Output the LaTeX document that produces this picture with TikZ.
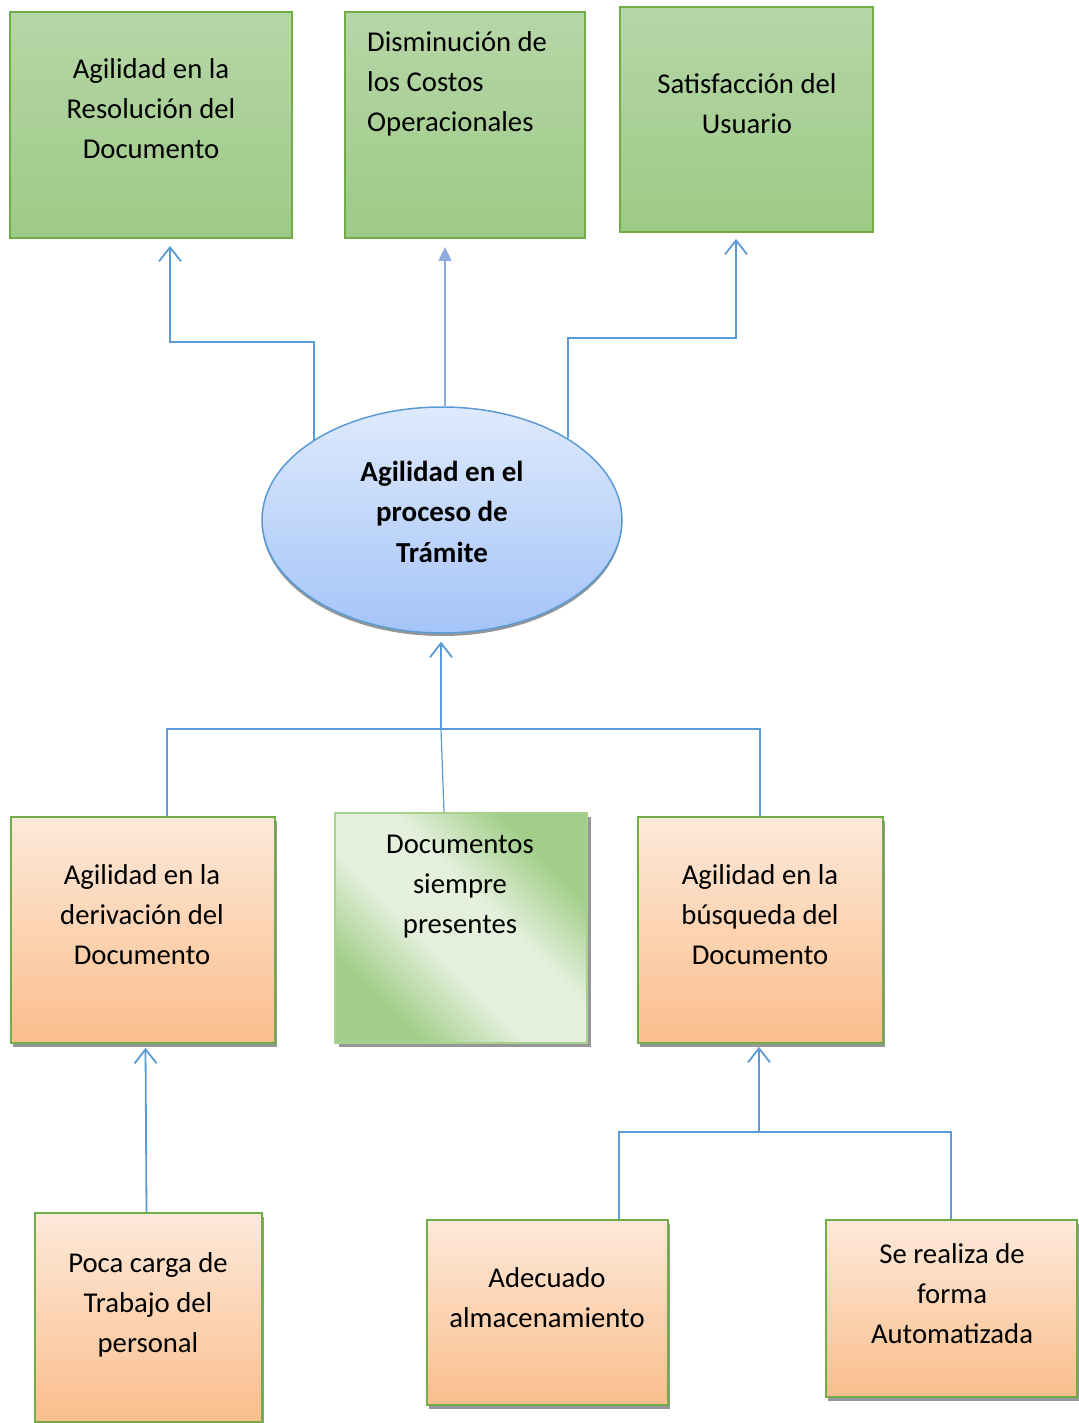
\documentclass[tikz,border=0pt]{standalone}
\usepackage{fontspec}
\setmainfont{Carlito}
\usetikzlibrary{shapes.geometric,shadows,arrows.meta,calc}
\definecolor{lineblue}{RGB}{91,155,213}
\definecolor{paleblue}{RGB}{143,170,220}
\definecolor{boxgreen}{RGB}{112,173,71}
\definecolor{softgreen}{RGB}{169,209,142}
\definecolor{gtop}{RGB}{182,214,167}
\definecolor{gbot}{RGB}{157,202,134}
\definecolor{otop}{RGB}{253,233,218}
\definecolor{obot}{RGB}{250,190,140}
\definecolor{etop}{RGB}{222,234,253}
\definecolor{ebot}{RGB}{164,196,248}
\definecolor{dgreen}{RGB}{160,205,135}
\definecolor{lgreen}{RGB}{228,240,220}
\definecolor{shade}{RGB}{150,150,150}
% diagonal band: green at both ends, pale in the middle
\pgfdeclareverticalshading{paleband}{100bp}{color(0bp)=(dgreen); color(27bp)=(dgreen);
  color(43bp)=(lgreen); color(57bp)=(lgreen); color(73bp)=(dgreen); color(100bp)=(dgreen)}
\begin{document}
\begin{tikzpicture}[x=1pt,y=-1pt,
  box/.style={rectangle, draw=boxgreen, line width=1.8pt, inner sep=0pt},
  greenbox/.style={box, top color=gtop, bottom color=gbot},
  orangebox/.style={box, top color=otop, bottom color=obot,
    drop shadow={shadow xshift=2pt, shadow yshift=-4pt, fill=shade, opacity=1}},
  lbl/.style={font=\fontsize{28.7}{40}\selectfont, align=center, inner sep=0pt, anchor=north},
  conn/.style={draw=lineblue, line width=1.8pt},
  barb/.style={-{Straight Barb[length=14pt,width=22pt]}}
]
\useasboundingbox (0,0) rectangle (1078,1423);

% top row of results
\node[greenbox, minimum width=282pt, minimum height=226pt] (r1) at (151,125) {};
\node[greenbox, minimum width=240pt, minimum height=226pt] (r2) at (465,125) {};
\node[greenbox, minimum width=253pt, minimum height=225pt] (r3) at (746.5,119.5) {};

% central process
\node[ellipse, draw=lineblue, line width=1.5pt, top color=etop, bottom color=ebot,
  minimum width=360pt, minimum height=226pt, inner sep=0pt,
  drop shadow={shadow xshift=0pt, shadow yshift=-3pt, fill=shade, opacity=1}] (e) at (442,520) {};

% middle row of causes
\node[orangebox, minimum width=264pt, minimum height=226pt] (m1) at (143,930) {};
\node[box, draw=softgreen, minimum width=252pt, minimum height=230pt,
  shading=paleband, shading angle=-45,
  drop shadow={shadow xshift=4pt, shadow yshift=-4pt, fill=shade, opacity=1}] (m2) at (461,928) {};
\node[orangebox, minimum width=245pt, minimum height=226pt] (m3) at (760.5,930) {};

% bottom row
\node[orangebox, minimum width=227pt, minimum height=209pt] (b1) at (148.5,1317.5) {};
\node[orangebox, minimum width=241pt, minimum height=185pt] (b2) at (547.5,1312.5) {};
\node[orangebox, minimum width=251pt, minimum height=177pt] (b3) at (951.5,1308.5) {};

% texts
\node[lbl] (r1t) at (151,58.5) {Agilidad en la\\Resolución del\\Documento};
\node[lbl, anchor=north west, align=left] (r2t) at (367,31.5) {Disminución de\\los Costos\\Operacionales};
\node[lbl] (r3t) at (747,73.5) {Satisfacción del\\Usuario};
\node[lbl, font=\fontsize{29}{40.5}\selectfont\bfseries] (et) at (442,460.5) {Agilidad en el\\proceso de\\Trámite};
\node[lbl] (m1t) at (142,864.5) {Agilidad en la\\derivación del\\Documento};
\node[lbl] (m2t) at (460,834.5) {Documentos\\siempre\\presentes};
\node[lbl] (m3t) at (760,864.5) {Agilidad en la\\búsqueda del\\Documento};
\node[lbl] (b1t) at (148,1252.5) {Poca carga de\\Trabajo del\\personal};
\node[lbl] (b2t) at (547,1267.5) {Adecuado\\almacenamiento};
\node[lbl] (b3t) at (952,1243.5) {Se realiza de\\forma\\Automatizada};

% connectors: process to results
\coordinate (k1) at (170,342);
\coordinate (k3) at (736,338);
\draw[conn, barb] (e.148) |- (k1) -- ($(k1 |- r1.south)+(0,7)$);
\draw[draw=paleblue, line width=1.8pt, -{Triangle[length=14pt,width=13pt]}]
  ($(e.north)+(3,0)$) -- ($(e.north |- r2.south)+(3,8)$);
\draw[conn, barb] (e.33) |- (k3) -- ($(k3 |- r3.south)+(0,6)$);

% connectors: causes to process
\coordinate (bus) at (441,729);
\coordinate (j1) at (167,729);
\coordinate (j3) at (760,729);
\draw[conn, barb] (bus) -- ($(bus |- e.south)+(0,8)$);
\draw[conn] (j1 |- m1.north) -- (j1) -- (j3) -- (j3 |- m3.north);
\draw[conn, line width=1.2pt] ($(m2.north)+(-17,0)$) -- (bus);

% connectors: bottom row to middle row
\draw[conn, barb] ($(b1.north)+(-2,0)$) -- ($(b1.north |- m1.south)+(-3,4)$);
\coordinate (j4) at (759,1132);
\coordinate (j5) at (619,1132);
\coordinate (j6) at (951,1132);
\draw[conn, barb] (j4) -- ($(j4 |- m3.south)+(0,3)$);
\draw[conn] (j5 |- b2.north) -- (j5) -- (j6) -- (j6 |- b3.north);
\end{tikzpicture}
\end{document}
